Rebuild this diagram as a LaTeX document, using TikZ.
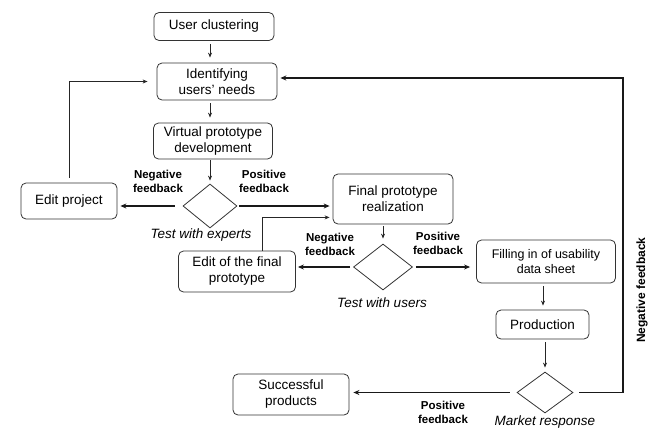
\documentclass[tikz,border=0pt]{standalone}
\usepackage{fontspec}
\setmainfont{Liberation Sans}
\usetikzlibrary{shapes.geometric,arrows.meta,calc}
\begin{document}
\begin{tikzpicture}[x=1pt,y=-1pt,
  box/.style={draw=black!80,line width=0.8pt,rounded corners=5pt,align=center,inner sep=0pt,font=\fontsize{13.5}{16}\selectfont},
  dia/.style={draw=black!80,line width=0.8pt,shape=diamond,inner sep=0pt},
  thinarr/.style={draw=black!85,line width=0.8pt,-{Stealth[length=5pt,width=4pt]}},
  thickarr/.style={draw=black!90,line width=1.8pt,-{Stealth[length=6pt,width=5pt]}},
  fb/.style={font=\bfseries\fontsize{11.5}{14}\selectfont,align=center,inner sep=0pt},
  lbl/.style={font=\itshape\fontsize{13.5}{16}\selectfont,inner sep=0pt}]
\useasboundingbox (0,0) rectangle (653,431);
% nodes
\node[box,minimum width=120pt,minimum height=28pt] (uc) at (214,26.5) {User clustering};
\node[box,minimum width=120pt,minimum height=37pt] (iun) at (217,81.5) {Identifying\\users' needs};
\node[box,minimum width=119pt,minimum height=36pt] (vpd) at (213,141) {Virtual prototype\\development};
\node[dia,minimum width=54pt,minimum height=44pt] (d1) at (210,206) {};
\node[box,minimum width=96pt,minimum height=36pt] (ep) at (69,201) {Edit project};
\node[box,minimum width=120pt,minimum height=50pt] (fpr) at (393,199) {Final prototype\\realization};
\node[box,minimum width=117pt,minimum height=41pt] (eofp) at (237,271.5) {Edit of the final\\prototype};
\node[dia,minimum width=59pt,minimum height=46pt] (d2) at (383,267) {};
\node[box,minimum width=139pt,minimum height=43pt,font=\fontsize{12.5}{15}\selectfont] (fill) at (546,261.5) {Filling in of usability\\data sheet};
\node[box,minimum width=93pt,minimum height=29pt] (prod) at (542.5,324.5) {Production};
\node[dia,minimum width=56pt,minimum height=41pt] (d3) at (545,392.5) {};
\node[box,minimum width=116pt,minimum height=41pt] (sp) at (291,394.5) {Successful\\products};
% labels
\node[fb] (nf1) at (158,181) {Negative\\feedback};
\node[fb] (pf1) at (264,181) {Positive\\feedback};
\node[lbl] (twe) at (201,235) {Test with experts};
\node[fb] (nf2) at (330,244) {Negative\\feedback};
\node[fb] (pf2) at (438,243) {Positive\\feedback};
\node[lbl] (twu) at (382,303) {Test with users};
\node[lbl] (mr) at (545,422) {Market response};
\node[fb] (pf3) at (443,412) {Positive\\feedback};
\node[fb,rotate=90,font=\bfseries\fontsize{12}{14}\selectfont] (nf3) at (642,290) {Negative feedback};
\coordinate (nfc) at (623,78);
% connectors
\draw[thinarr,shorten <=3pt,shorten >=5pt] (d1 |- uc.south) -- (d1 |- iun.north);
\draw[thinarr,shorten <=3pt,shorten >=5pt] (d1 |- iun.south) -- (d1 |- vpd.north);
\draw[thinarr,shorten <=1pt,shorten >=3pt] (d1 |- vpd.south) -- (d1.north);
\draw[thickarr,shorten <=8pt,shorten >=3pt] (d1.west) -- (d1.west -| ep.east);
\draw[thinarr,shorten <=5pt,shorten >=9pt] (ep.north) |- (iun.west);
\draw[thickarr,shorten <=2pt,shorten >=3pt] (d1.east) -- (d1.east -| fpr.west);
\draw[thinarr,shorten >=3pt] ([xshift=25pt]eofp.north) |- ([yshift=7pt]fpr.south west);
\draw[thinarr,shorten <=2pt,shorten >=5pt] (d2 |- fpr.south) -- (d2.north);
\draw[thickarr,shorten <=3pt,shorten >=2pt] (d2.west) -- (d2.west -| eofp.east);
\draw[thickarr,shorten <=3pt,shorten >=6pt] (d2.east) -- (d2.east -| fill.west);
\draw[thinarr,shorten <=3pt,shorten >=4pt] (fill.south -| 543,0) -- (prod.north -| 543,0);
\draw[thinarr,shorten <=3pt,shorten >=4pt] (prod.south -| d3) -- (d3.north);
\draw[thickarr,shorten <=7pt,shorten >=4pt] (d3.west) -- (d3.west -| sp.east);
\draw[thickarr,shorten <=6pt,shorten >=3pt] (d3.east) -| (nfc) -- (nfc -| iun.east);
\end{tikzpicture}
\end{document}
